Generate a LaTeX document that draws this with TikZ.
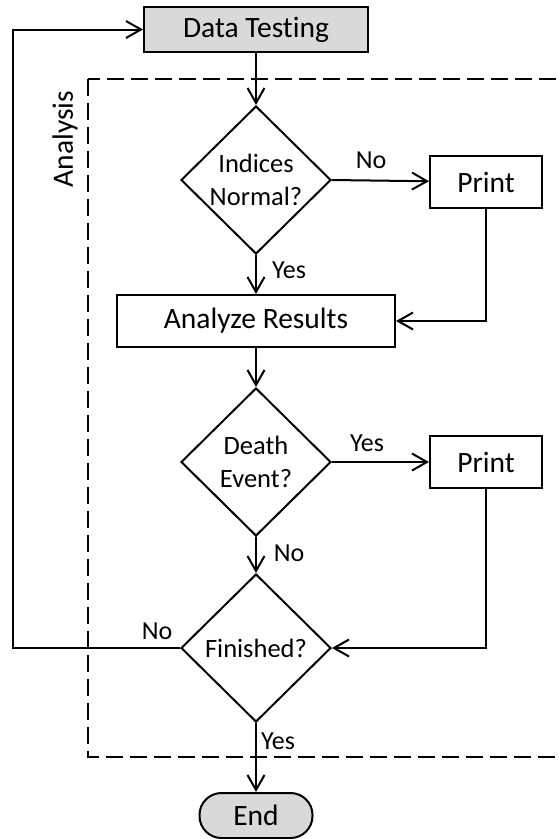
\documentclass[tikz,border=0pt]{standalone}
\usepackage{fontspec}
\setmainfont[Ligatures=NoCommon]{Carlito}
\usetikzlibrary{shapes.geometric,arrows.meta}
\begin{document}
\begin{tikzpicture}[x=1pt,y=-1pt,
  every node/.style={font=\fontsize{29.5}{34}\selectfont},
  box/.style={draw, line width=2pt, rectangle, inner sep=0pt},
  grey/.style={fill=black!15},
  decision/.style={draw, line width=2pt, diamond, inner sep=0pt,
                   minimum width=150pt, minimum height=148pt},
  dtext/.style={align=center, font=\fontsize{26.5}{33}\selectfont},
  lbl/.style={font=\fontsize{26}{28}\selectfont},
  flow/.style={line width=2pt, -{Straight Barb[length=15pt,width=17pt,line width=2pt]}},
  group/.style={line width=2pt, dash pattern=on 17pt off 7pt}]
\useasboundingbox (0,0) rectangle (559,839);

% analysis group (runs off the right edge)
\begin{scope}
  \clip (0,0) rectangle (559,839);
  \draw[group] (88,79) rectangle (580,757);
\end{scope}
\node[rotate=90] (grp) at (65,139) {Analysis};

% process nodes
\node[box, grey, minimum width=224pt, minimum height=45pt] (dt) at (256,29.5) {Data Testing};
\node[decision] (d1) at (256,180) {};
\node[dtext] (d1t) at (d1) {Indices\\Normal?};
\node[box, minimum width=112pt, minimum height=52pt] (p1) at (486,182) {Print};
\node[box, minimum width=278pt, minimum height=52pt] (ar) at (256,321) {Analyze Results};
\node[decision] (d2) at (256,462) {};
\node[dtext] (d2t) at (d2) {Death\\Event?};
\node[box, minimum width=112pt, minimum height=52pt] (p2) at (486,462) {Print};
\node[decision] (d3) at (256,648) {};
\node[dtext] (d3t) at (d3) {Finished?};
\node[box, grey, rounded corners=22pt, minimum width=113pt, minimum height=45pt] (end) at (256,815.5) {End};

% connectors
\coordinate (loop) at (13,0);
\draw[flow] (dt) -- (d1);
\draw[flow] (d1.east) -- (p1);
\draw[flow] (d1.south) -- (ar);
\draw[flow] (p1.south) |- (ar.east);
\draw[flow] (ar) -- (d2);
\draw[flow] (d2.east) -- (p2);
\draw[flow] (d2.south) -- (d3);
\draw[flow] (p2.south) |- (d3.east);
\draw[flow] (d3.west) -- (d3.west -| loop) -- (dt.west -| loop) -- (dt.west);
\draw[flow] (d3.south) -- (end);

% branch labels
\node[lbl] (l1) at (371,160) {No};
\node[lbl] (l2) at (289,270) {Yes};
\node[lbl] (l3) at (367,443) {Yes};
\node[lbl] (l4) at (289,553) {No};
\node[lbl] (l5) at (157,631) {No};
\node[lbl] (l6) at (278,741) {Yes};
\end{tikzpicture}
\end{document}
